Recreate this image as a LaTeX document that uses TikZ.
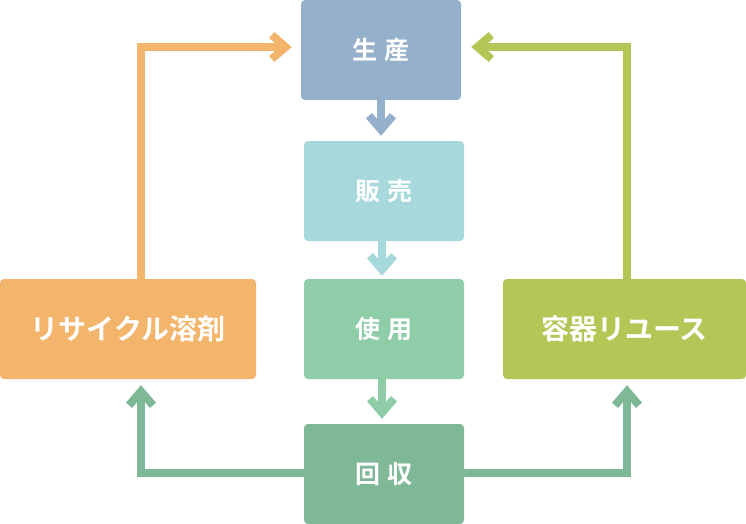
\documentclass[tikz,border=0pt]{standalone}
\usepackage{fontspec}
\newfontfamily\jp{Noto Sans CJK JP}[BoldFont={Noto Sans CJK JP Bold}]
\usetikzlibrary{arrows.meta}
\definecolor{cprod}{HTML}{94B0CA}
\definecolor{csale}{HTML}{A6D8DC}
\definecolor{cuse}{HTML}{8FCDA9}
\definecolor{ccol}{HTML}{7FB896}
\definecolor{corg}{HTML}{F3B46B}
\definecolor{colv}{HTML}{B5C556}
\begin{document}
\begin{tikzpicture}[x=1pt,y=-1pt,
  box/.style={rounded corners=4pt,minimum height=100pt,inner sep=0pt,text=white,font=\jp\bfseries\fontsize{25pt}{25pt}\selectfont},
  sidebox/.style={box,font=\jp\bfseries\fontsize{28pt}{28pt}\selectfont},
  arr/.style={line width=8pt,line join=miter,-{Straight Barb[length=14pt,width=24pt,line join=miter]}}]
\useasboundingbox (0,0) rectangle (746,524);
\node[box,fill=cprod,minimum width=160pt] (prod) at (381,50) {生\hspace{0.3em}産};
\node[box,fill=csale,minimum width=160pt] (sale) at (384,191) {販\hspace{0.3em}売};
\node[box,fill=cuse,minimum width=160pt] (use) at (384,329) {使\hspace{0.3em}用};
\node[box,fill=ccol,minimum width=160pt] (col) at (384,474) {回\hspace{0.3em}収};
\node[sidebox,fill=corg,minimum width=256pt] (left) at (128,329) {リサイクル溶剤};
\node[sidebox,fill=colv,minimum width=243pt] (right) at (624.5,329) {容器リユース};
\draw[arr,cprod,shorten >=5pt] (prod.south) -- (prod.south |- sale.north);
\draw[arr,csale,shorten >=3pt] ([xshift=-2pt]sale.south) -- ([xshift=-2pt]use.north);
\draw[arr,cuse,shorten >=5pt] ([xshift=-2pt]use.south) -- ([xshift=-2pt]col.north);
\draw[arr,corg,shorten >=9pt] ([xshift=13pt]left.north) |- ([yshift=3pt]prod.west);
\draw[arr,colv,shorten >=10pt] ([xshift=2.5pt]right.north) |- ([yshift=3pt]prod.east);
\draw[arr,ccol,shorten >=6pt] ([yshift=1pt]col.west) -| ([xshift=13pt]left.south);
\draw[arr,ccol,shorten >=6pt] ([yshift=1pt]col.east) -| ([xshift=2.5pt]right.south);
\end{tikzpicture}
\end{document}
